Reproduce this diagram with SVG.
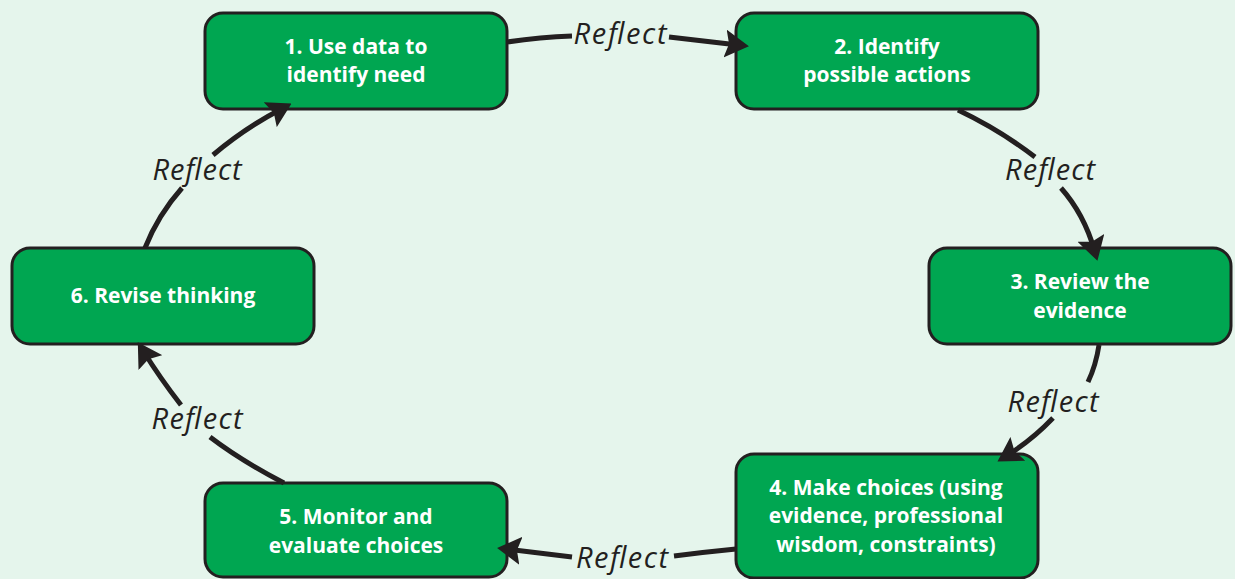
<svg xmlns="http://www.w3.org/2000/svg" width="1235" height="579" viewBox="0 0 1235 579">
  <style>
    .box { fill: #00a651; stroke: #231f20; stroke-width: 3; }
    .label { font-family: "Open Sans", "Liberation Sans", sans-serif; font-weight: bold; font-size: 21px; fill: #ffffff; text-anchor: middle; }
    .edge { fill: none; stroke: #231f20; stroke-width: 5; }
    .reflect { font-family: "Open Sans", "Liberation Sans", sans-serif; font-style: italic; font-size: 29px; fill: #231f20; text-anchor: middle; }
  </style>
  <defs>
    <marker id="arrow" viewBox="0 0 24 28" refX="13" refY="14" markerWidth="24" markerHeight="28" markerUnits="userSpaceOnUse" orient="auto">
      <path d="M0,0 L24,14 L0,28 L4,14 z" fill="#231f20"/>
    </marker>
  </defs>

  <rect width="1235" height="579" fill="#e5f5ec"/>

  <g id="node1">
    <rect class="box" x="205" y="13" width="302" height="96" rx="18"/>
    <text class="label" x="356" y="54">1. Use data to</text>
    <text class="label" x="356" y="82">identify need</text>
  </g>
  <g id="node2">
    <rect class="box" x="736" y="13" width="302" height="96" rx="18"/>
    <text class="label" x="887" y="54">2. Identify</text>
    <text class="label" x="887" y="82">possible actions</text>
  </g>
  <g id="node3">
    <rect class="box" x="929" y="248" width="302" height="96" rx="18"/>
    <text class="label" x="1080" y="289">3. Review the</text>
    <text class="label" x="1080" y="318">evidence</text>
  </g>
  <g id="node4">
    <rect class="box" x="736" y="454" width="302" height="124" rx="18"/>
    <text class="label" x="886" y="495">4. Make choices (using</text>
    <text class="label" x="886" y="523">evidence, professional</text>
    <text class="label" x="886" y="552">wisdom, constraints)</text>
  </g>
  <g id="node5">
    <rect class="box" x="205" y="483" width="302" height="94" rx="18"/>
    <text class="label" x="356" y="524">5. Monitor and</text>
    <text class="label" x="356" y="553">evaluate choices</text>
  </g>
  <g id="node6">
    <rect class="box" x="12" y="248" width="302" height="96" rx="18"/>
    <text class="label" x="163" y="303">6. Revise thinking</text>
  </g>

  <!-- connectors: each cycle step is split around its "Reflect" label; drawn last so arrowheads overlap the boxes -->
  <g id="connectors">
    <path class="edge" d="M507,42 Q540,37 572,36"/>
    <path class="edge" d="M669,37 L738,45" marker-end="url(#arrow)"/>
    <text class="reflect" x="620" y="44" textLength="93" lengthAdjust="spacing">Reflect</text>

    <path class="edge" d="M958,110 Q1000,130 1035,157"/>
    <path class="edge" d="M1061,188 Q1084,214 1094.4,250.3" marker-end="url(#arrow)"/>
    <text class="reflect" x="1050" y="180" textLength="90" lengthAdjust="spacing">Reflect</text>

    <path class="edge" d="M1099,345 Q1096,365 1088,382"/>
    <path class="edge" d="M1053,418 Q1032,440 1006.8,455.7" marker-end="url(#arrow)"/>
    <text class="reflect" x="1053" y="412" textLength="91" lengthAdjust="spacing">Reflect</text>

    <path class="edge" d="M736,549 Q705,552 674,556"/>
    <path class="edge" d="M572,557 Q540,553 508,549.2" marker-end="url(#arrow)"/>
    <text class="reflect" x="622" y="568" textLength="92" lengthAdjust="spacing">Reflect</text>

    <path class="edge" d="M284,483 Q240,460 210,437"/>
    <path class="edge" d="M181,405 Q160,378 143.6,351.5" marker-end="url(#arrow)"/>
    <text class="reflect" x="197" y="429" textLength="91" lengthAdjust="spacing">Reflect</text>

    <path class="edge" d="M145,248 Q158,215 182,188"/>
    <path class="edge" d="M213,155 Q245,128 281.8,108.7" marker-end="url(#arrow)"/>
    <text class="reflect" x="197" y="180" textLength="89" lengthAdjust="spacing">Reflect</text>
  </g>
</svg>
